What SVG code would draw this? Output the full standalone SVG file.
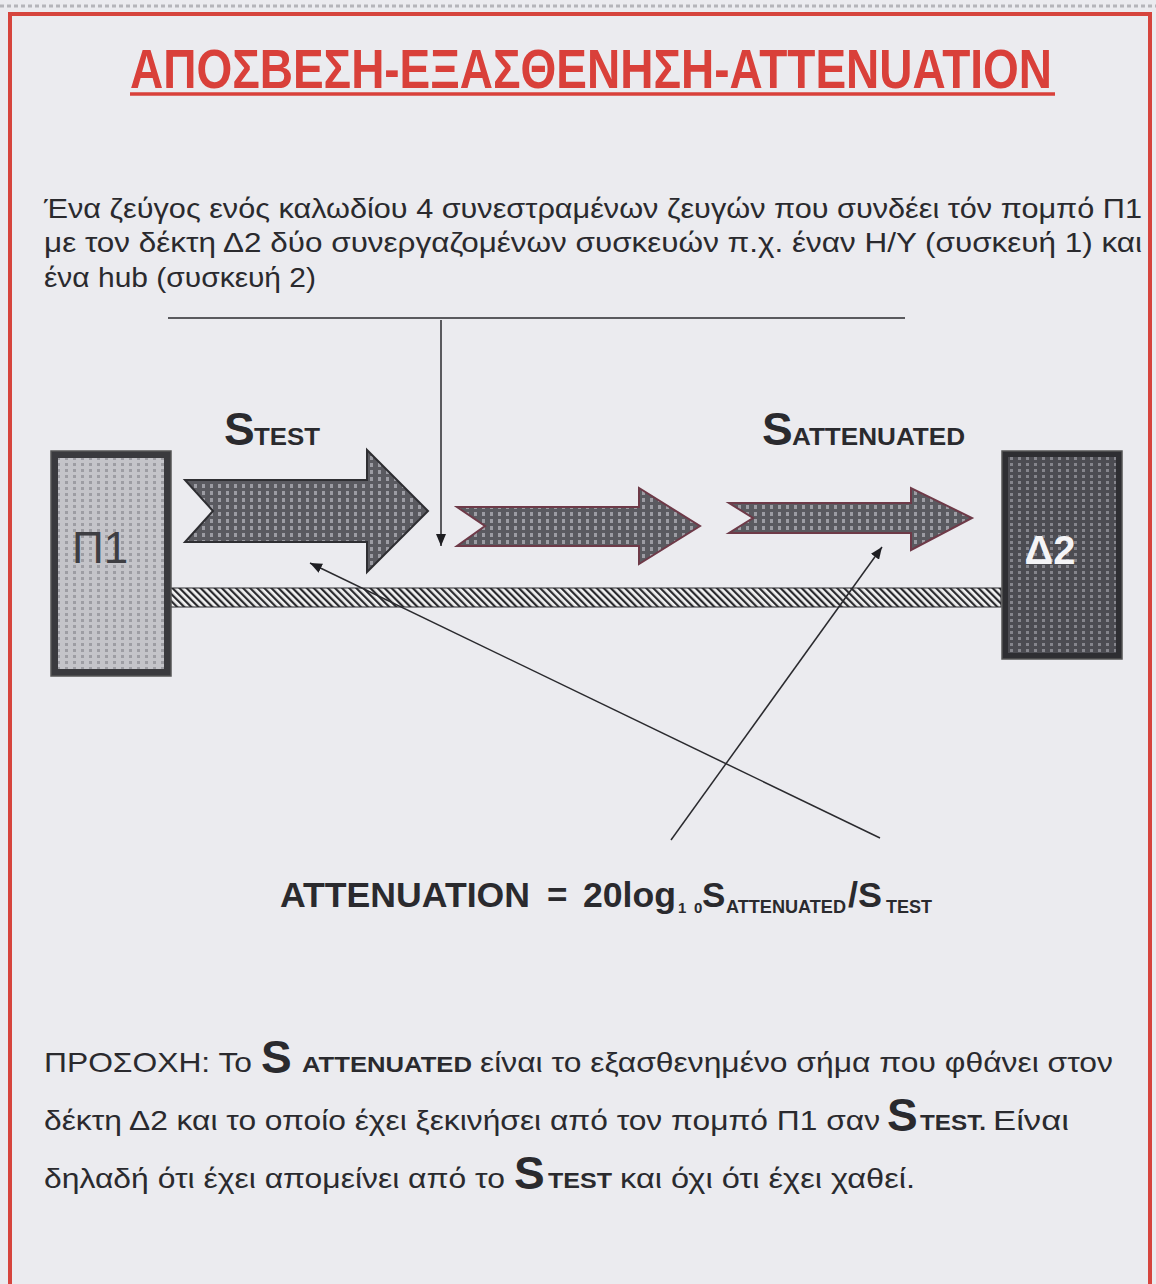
<svg xmlns="http://www.w3.org/2000/svg" width="1156" height="1284" viewBox="0 0 1156 1284">
<defs>
<style>
.t{font-family:"Liberation Sans",Arial,sans-serif;fill:#2a2a2e}
.b{font-family:"Liberation Sans",Arial,sans-serif;font-weight:bold;fill:#2a2a2e}
.ln{stroke:#2a2a2e;stroke-width:1.5;fill:none}
</style>
<pattern id="pLight" width="8" height="6" patternUnits="userSpaceOnUse">
<rect width="8" height="6" fill="#c4c4c9"/>
<rect x="1" y="1" width="3" height="3" fill="#9d9da3"/>
</pattern>
<pattern id="pArrow" width="8" height="7" patternUnits="userSpaceOnUse">
<rect width="8" height="7" fill="#5a5a60"/>
<rect x="2" y="1" width="3" height="4" fill="#9c9ca3"/>
</pattern>
<pattern id="pDark" width="8" height="6" patternUnits="userSpaceOnUse">
<rect width="8" height="6" fill="#4c4c52"/>
<rect x="2" y="1" width="3" height="3" fill="#85858c"/>
</pattern>
<pattern id="pHatch" width="5" height="5" patternUnits="userSpaceOnUse" patternTransform="rotate(-45)">
<rect width="5" height="5" fill="#f2f2f2"/>
<rect width="2.2" height="5" fill="#2a2a2e"/>
</pattern>
<marker id="ah" viewBox="0 0 12 10" refX="12" refY="5" markerWidth="12" markerHeight="10" markerUnits="userSpaceOnUse" orient="auto">
<path d="M0,0 L12,5 L0,10 Z" fill="#1e1e22"/>
</marker>
</defs>

<rect width="1156" height="1284" fill="#ebebef"/>
<line x1="0" y1="6" x2="1156" y2="6" stroke="#b5b5ba" stroke-width="3" stroke-dasharray="4 3"/>
<path d="M10,1284 L10,14 L1150,14 L1150,1284" fill="none" stroke="#d6443d" stroke-width="4"/>

<g id="title">
<text x="130" y="88" font-family="'Liberation Sans',Arial,sans-serif" font-weight="bold" font-size="55" fill="#d9403a" textLength="922" lengthAdjust="spacingAndGlyphs">ΑΠΟΣΒΕΣΗ-ΕΞΑΣΘΕΝΗΣΗ-ATTENUATION</text>
<line x1="130" y1="94" x2="1055" y2="94" stroke="#d9403a" stroke-width="3.5"/>
</g>

<g id="intro">
<text class="t" x="44" y="218" font-size="28" textLength="1098" lengthAdjust="spacingAndGlyphs">Ένα ζεύγος ενός καλωδίου 4 συνεστραμένων ζευγών που συνδέει τόν πομπό Π1</text>
<text class="t" x="44" y="252" font-size="28" textLength="1098" lengthAdjust="spacingAndGlyphs">με τον δέκτη Δ2 δύο συνεργαζομένων συσκευών π.χ. έναν Η/Υ (συσκευή 1) και</text>
<text class="t" x="44" y="287" font-size="28" textLength="272" lengthAdjust="spacingAndGlyphs">ένα hub (συσκευή 2)</text>
</g>

<g id="cable">
<rect x="170" y="588" width="831" height="19" fill="url(#pHatch)" stroke="#2a2a2e" stroke-width="1"/>
</g>

<g id="P1">
<rect x="51" y="451" width="120" height="225" fill="#3a3a3e" stroke="#555" stroke-width="1.5"/>
<rect x="58" y="458" width="106" height="211" fill="url(#pLight)"/>
<text x="100" y="563" text-anchor="middle" font-family="'Liberation Sans',Arial,sans-serif" font-size="44" fill="#3e3e42">Π1</text>
</g>

<g id="D2">
<rect x="1002" y="451" width="120" height="208" fill="#2e2e32" stroke="#555" stroke-width="1.5"/>
<rect x="1008" y="457" width="108" height="196" fill="url(#pDark)"/>
<text x="1050" y="564" text-anchor="middle" font-family="'Liberation Sans',Arial,sans-serif" font-weight="bold" font-size="40" fill="#f4f4f6">Δ2</text>
</g>

<g id="arrow1">
<path d="M185,480 L367,480 L367,450 L428,511 L367,572 L367,542 L185,542 L213,511 Z" fill="url(#pArrow)" stroke="#2e2e32" stroke-width="2"/>
</g>
<g id="arrow2">
<path d="M457,507 L639,507 L639,488 L700,526 L639,564 L639,546 L457,546 L485,526 Z" fill="url(#pArrow)" stroke="#6e3a48" stroke-width="2"/>
</g>
<g id="arrow3">
<path d="M729,503 L911,503 L911,488 L972,518 L911,550 L911,533 L729,533 L753,518 Z" fill="url(#pArrow)" stroke="#6e3a48" stroke-width="2"/>
</g>

<g id="label-stest">
<text class="b" x="224" y="445" font-size="46">S</text>
<text class="b" x="254" y="445" font-size="24" textLength="66" lengthAdjust="spacingAndGlyphs">TEST</text>
</g>
<g id="label-satt">
<text class="b" x="762" y="445" font-size="46">S</text>
<text class="b" x="792" y="445" font-size="24" textLength="173" lengthAdjust="spacingAndGlyphs">ATTENUATED</text>
</g>

<g id="connectors">
<line class="ln" x1="168" y1="318" x2="905" y2="318"/>
<line class="ln" x1="441" y1="320" x2="441" y2="546" marker-end="url(#ah)"/>
<line class="ln" x1="880" y1="838" x2="310" y2="563" marker-end="url(#ah)"/>
<line class="ln" x1="671" y1="840" x2="882" y2="547" marker-end="url(#ah)"/>
</g>

<g id="formula">
<text class="b" x="280" y="907" font-size="35" textLength="250" lengthAdjust="spacingAndGlyphs">ATTENUATION</text>
<text class="b" x="547" y="907" font-size="35">=</text>
<text class="b" x="583" y="907" font-size="35" textLength="93" lengthAdjust="spacingAndGlyphs">20log</text>
<text class="b" x="678" y="913" font-size="15">1</text>
<text class="b" x="694" y="913" font-size="15">0</text>
<text class="b" x="702" y="907" font-size="35">S</text>
<text class="b" x="726" y="913" font-size="18" textLength="120" lengthAdjust="spacingAndGlyphs">ATTENUATED</text>
<text class="b" x="848" y="907" font-size="35" textLength="34" lengthAdjust="spacingAndGlyphs">/S</text>
<text class="b" x="886" y="913" font-size="18" textLength="46" lengthAdjust="spacingAndGlyphs">TEST</text>
</g>

<g id="note">
<text class="t" x="44" y="1072" font-size="28" textLength="208" lengthAdjust="spacingAndGlyphs">ΠΡΟΣΟΧΗ:  Το</text>
<text class="b" x="261" y="1073" font-size="46">S</text>
<text class="b" x="302" y="1072" font-size="22" textLength="170" lengthAdjust="spacingAndGlyphs">ATTENUATED</text>
<text class="t" x="480" y="1072" font-size="28" textLength="633" lengthAdjust="spacingAndGlyphs">είναι το εξασθενημένο σήμα που φθάνει στον</text>
<text class="t" x="44" y="1130" font-size="28" textLength="836" lengthAdjust="spacingAndGlyphs">δέκτη Δ2 και το οποίο έχει ξεκινήσει από τον πομπό Π1 σαν</text>
<text class="b" x="887" y="1131" font-size="46">S</text>
<text class="b" x="920" y="1130" font-size="22" textLength="66" lengthAdjust="spacingAndGlyphs">TEST.</text>
<text class="t" x="993" y="1130" font-size="28" textLength="76" lengthAdjust="spacingAndGlyphs">Είναι</text>
<text class="t" x="44" y="1188" font-size="28" textLength="461" lengthAdjust="spacingAndGlyphs">δηλαδή ότι έχει απομείνει από το</text>
<text class="b" x="514" y="1189" font-size="46">S</text>
<text class="b" x="548" y="1188" font-size="22" textLength="64" lengthAdjust="spacingAndGlyphs">TEST</text>
<text class="t" x="620" y="1188" font-size="28" textLength="295" lengthAdjust="spacingAndGlyphs">και όχι ότι έχει χαθεί.</text>
</g>
</svg>
